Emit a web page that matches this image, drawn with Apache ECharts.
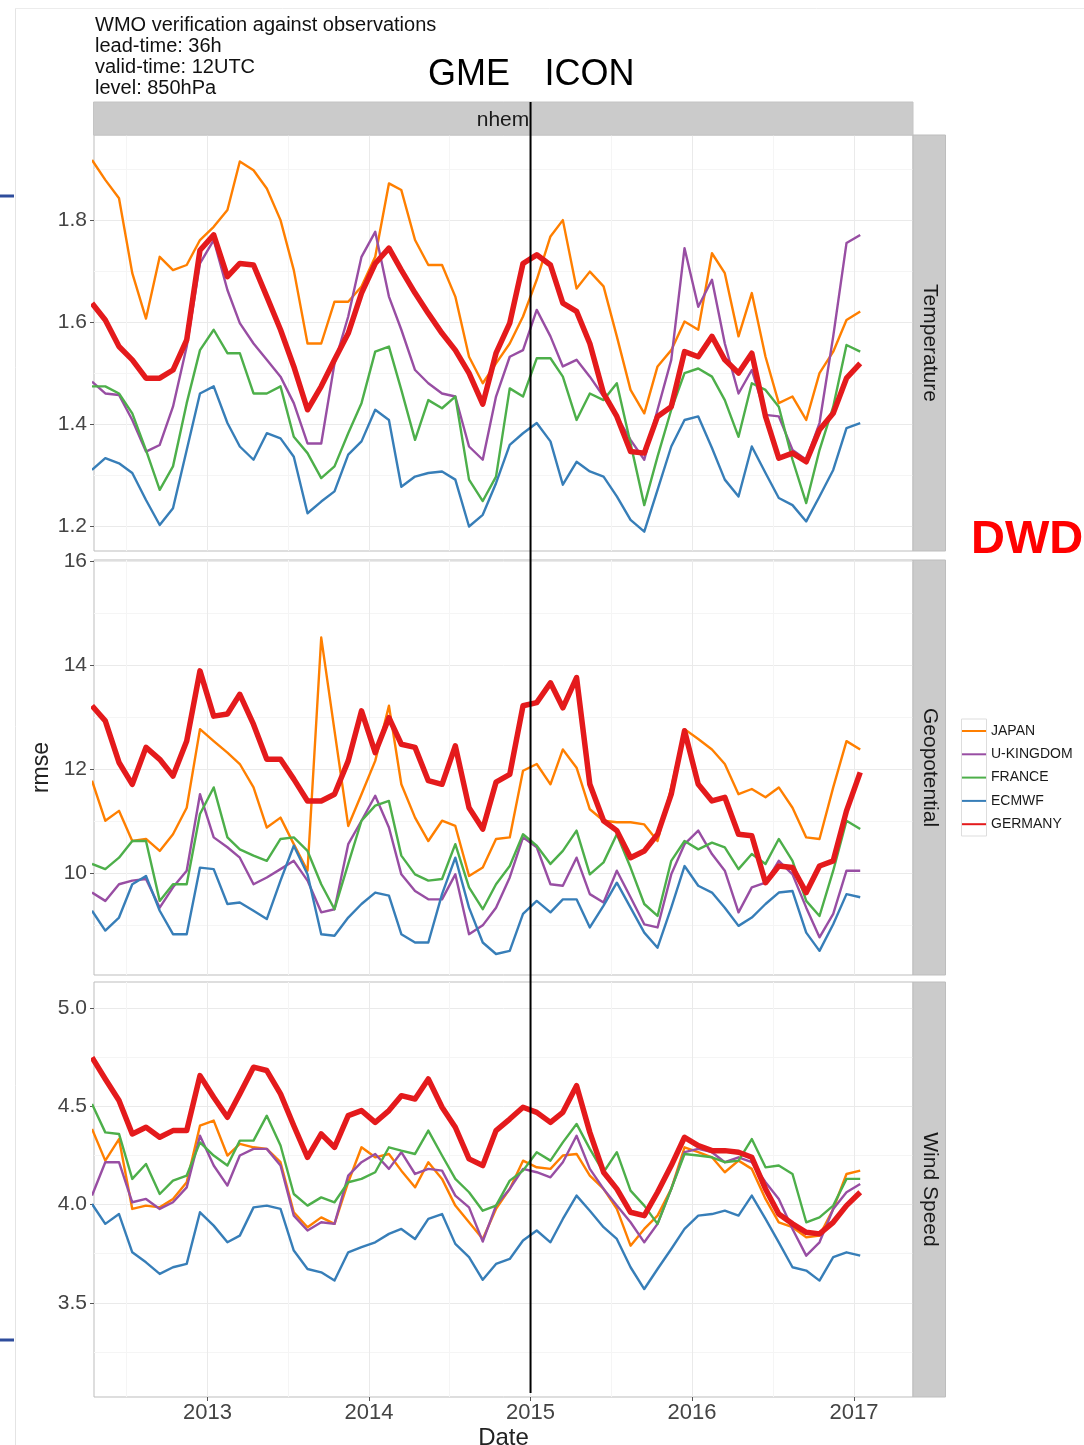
<!DOCTYPE html>
<html>
<head>
<meta charset="utf-8">
<script src="https://cdn.jsdelivr.net/npm/echarts@6/dist/echarts.min.js"></script>
<style>
html,body{margin:0;padding:0;background:#fff;}
#c{width:1084px;height:1445px;}
</style>
</head>
<body>
<div id="c"></div>
<script>
// ---------- data ----------
const months = [
  '2012-04','2012-05','2012-06','2012-07','2012-08','2012-09','2012-10','2012-11','2012-12',
  '2013-01','2013-02','2013-03','2013-04','2013-05','2013-06','2013-07','2013-08','2013-09','2013-10','2013-11','2013-12',
  '2014-01','2014-02','2014-03','2014-04','2014-05','2014-06','2014-07','2014-08','2014-09','2014-10','2014-11','2014-12',
  '2015-01','2015-02','2015-03','2015-04','2015-05','2015-06','2015-07','2015-08','2015-09','2015-10','2015-11','2015-12',
  '2016-01','2016-02','2016-03','2016-04','2016-05','2016-06','2016-07','2016-08','2016-09','2016-10','2016-11','2016-12',
  '2017-01'
];
const countries = ['JAPAN', 'U-KINGDOM', 'FRANCE', 'ECMWF', 'GERMANY'];
const facetNames = ['Temperature', 'Geopotential', 'Wind Speed'];

// Temperature
const tempJapan = [1.919,1.880,1.844,1.697,1.608,1.729,1.703,1.713,1.762,1.788,
  1.821,1.916,1.899,1.863,1.801,1.703,1.559,1.559,1.641,1.641,
  1.671,1.729,1.873,1.860,1.762,1.713,1.713,1.651,1.533,1.481,
  1.520,1.559,1.612,1.684,1.769,1.801,1.667,1.700,1.671,1.573,
  1.468,1.422,1.514,1.546,1.602,1.586,1.736,1.697,1.573,1.658,
  1.533,1.442,1.455,1.409,1.501,1.543,1.605,1.622];
const tempUK = [1.484,1.461,1.458,1.409,1.347,1.360,1.435,1.553,1.716,1.762,
  1.664,1.599,1.559,1.527,1.494,1.442,1.363,1.363,1.520,1.612,
  1.729,1.778,1.651,1.586,1.507,1.481,1.461,1.455,1.357,1.331,
  1.455,1.533,1.546,1.625,1.573,1.514,1.527,1.494,1.455,1.416,
  1.370,1.331,1.429,1.527,1.746,1.631,1.684,1.559,1.461,1.507,
  1.419,1.416,1.350,1.331,1.403,1.573,1.756,1.772];
const tempFrance = [1.475,1.475,1.461,1.422,1.350,1.272,1.318,1.442,1.546,1.586,
  1.540,1.540,1.461,1.461,1.475,1.376,1.344,1.295,1.318,1.383,
  1.442,1.543,1.553,1.468,1.370,1.448,1.432,1.455,1.292,1.250,
  1.298,1.471,1.455,1.530,1.530,1.494,1.409,1.461,1.448,1.481,
  1.363,1.242,1.337,1.429,1.501,1.510,1.494,1.448,1.376,1.481,
  1.468,1.435,1.331,1.246,1.350,1.435,1.556,1.543];
const tempECMWF = [1.311,1.334,1.324,1.305,1.252,1.203,1.236,1.350,1.461,1.475,
  1.403,1.357,1.331,1.383,1.373,1.337,1.226,1.249,1.269,1.341,
  1.367,1.429,1.409,1.278,1.298,1.305,1.308,1.292,1.200,1.223,
  1.285,1.360,1.383,1.403,1.367,1.282,1.327,1.308,1.298,1.259,
  1.213,1.190,1.272,1.357,1.409,1.416,1.354,1.292,1.259,1.357,
  1.305,1.256,1.242,1.210,1.259,1.311,1.393,1.403];
const tempGermany = [1.638,1.605,1.553,1.527,1.491,1.491,1.507,1.566,1.742,1.772,
  1.690,1.716,1.713,1.651,1.586,1.514,1.429,1.475,1.527,1.579,
  1.658,1.716,1.746,1.703,1.658,1.618,1.579,1.546,1.501,1.440,
  1.540,1.599,1.716,1.733,1.713,1.638,1.622,1.559,1.461,1.416,
  1.347,1.344,1.416,1.435,1.543,1.533,1.573,1.527,1.501,1.540,
  1.416,1.334,1.344,1.327,1.390,1.422,1.491,1.520];

// Geopotential
const geoJapan = [11.78,11.01,11.20,10.62,10.66,10.43,10.75,11.26,12.77,12.54,
  12.32,12.10,11.65,10.88,11.07,10.56,10.05,14.53,12.74,10.91,
  11.52,12.16,13.22,11.71,11.07,10.62,11.01,10.91,9.95,10.11,
  10.66,10.69,11.97,12.10,11.71,12.38,12.03,11.23,11.01,10.98,
  10.98,10.94,10.62,11.65,12.77,12.58,12.38,12.10,11.52,11.62,
  11.46,11.65,11.26,10.69,10.66,11.65,12.54,12.38];
const geoUK = [9.63,9.47,9.79,9.86,9.89,9.34,9.73,10.05,11.52,10.69,
  10.50,10.30,9.79,9.92,10.08,10.24,9.86,9.25,9.31,10.56,
  11.01,11.49,10.88,9.98,9.66,9.50,9.50,9.98,8.83,9.00,
  9.34,9.92,10.69,10.50,9.79,9.76,10.30,9.60,9.44,10.05,
  9.54,9.02,8.96,9.98,10.56,10.82,10.37,10.05,9.25,9.73,
  9.82,10.24,9.98,9.34,8.77,9.22,10.05,10.05];
const geoFrance = [10.18,10.08,10.30,10.62,10.62,9.47,9.79,9.79,11.14,11.65,
  10.69,10.46,10.34,10.24,10.66,10.69,10.43,9.79,9.31,10.18,
  11.01,11.30,11.39,10.34,9.98,9.86,9.89,10.56,9.73,9.31,
  9.79,10.14,10.75,10.53,10.18,10.43,10.82,9.98,10.21,10.75,
  10.11,9.41,9.18,10.24,10.62,10.46,10.59,10.50,10.08,10.37,
  10.18,10.66,10.24,9.47,9.18,10.05,11.01,10.85];
const geoECMWF = [9.28,8.90,9.15,9.79,9.95,9.28,8.83,8.83,10.11,10.08,
  9.41,9.44,9.28,9.12,9.86,10.53,9.98,8.83,8.80,9.15,
  9.41,9.63,9.57,8.83,8.67,8.67,9.60,10.30,9.34,8.67,
  8.45,8.51,9.22,9.47,9.25,9.50,9.50,8.96,9.38,9.82,
  9.34,8.86,8.57,9.34,10.14,9.76,9.63,9.34,8.99,9.15,
  9.41,9.63,9.66,8.86,8.51,9.02,9.60,9.54];
const geoGermany = [13.22,12.93,12.13,11.71,12.42,12.19,11.87,12.54,13.89,13.02,
  13.06,13.44,12.86,12.19,12.19,11.81,11.39,11.39,11.52,12.16,
  13.12,12.32,12.99,12.48,12.42,11.78,11.71,12.45,11.26,10.85,
  11.75,11.90,13.22,13.28,13.66,13.18,13.76,11.71,11.01,10.82,
  10.30,10.43,10.75,11.52,12.74,11.71,11.39,11.46,10.75,10.72,
  9.82,10.14,10.11,9.63,10.14,10.24,11.20,11.94];

// Wind Speed
const windJapan = [4.385,4.224,4.334,3.978,3.995,3.986,4.029,4.114,4.402,4.428,
  4.250,4.309,4.292,4.284,4.216,3.961,3.885,3.935,3.902,4.114,
  4.292,4.241,4.258,4.173,4.088,4.216,4.131,3.995,3.910,3.825,
  3.978,4.080,4.224,4.190,4.182,4.250,4.258,4.148,4.080,3.978,
  3.791,3.876,3.944,4.080,4.292,4.267,4.241,4.165,4.224,4.182,
  4.029,3.910,3.885,3.834,3.842,3.978,4.156,4.173];
const windUK = [4.046,4.216,4.216,4.012,4.029,3.978,4.012,4.088,4.351,4.199,
  4.097,4.250,4.284,4.284,4.199,3.944,3.868,3.910,3.902,4.148,
  4.216,4.258,4.182,4.267,4.156,4.182,4.173,4.046,3.986,3.812,
  3.995,4.080,4.182,4.165,4.139,4.216,4.351,4.182,4.080,3.995,
  3.910,3.808,3.902,4.080,4.267,4.284,4.267,4.216,4.241,4.216,
  4.114,4.029,3.876,3.740,3.808,3.978,4.063,4.105];
const windFrance = [4.513,4.368,4.360,4.131,4.207,4.054,4.122,4.148,4.317,4.250,
  4.199,4.326,4.326,4.453,4.301,4.054,3.995,4.037,4.012,4.114,
  4.131,4.165,4.292,4.275,4.258,4.377,4.250,4.131,4.063,3.969,
  3.995,4.122,4.173,4.267,4.224,4.317,4.411,4.284,4.165,4.267,
  4.071,3.995,3.902,4.080,4.258,4.250,4.241,4.216,4.224,4.334,
  4.190,4.199,4.156,3.910,3.935,3.995,4.131,4.131];
const windECMWF = [4.003,3.902,3.952,3.757,3.706,3.647,3.681,3.698,3.961,3.893,
  3.808,3.842,3.986,3.995,3.978,3.766,3.672,3.655,3.613,3.757,
  3.783,3.808,3.851,3.876,3.825,3.927,3.952,3.800,3.732,3.617,
  3.698,3.723,3.817,3.868,3.808,3.927,4.046,3.969,3.885,3.825,
  3.681,3.570,3.672,3.774,3.876,3.944,3.952,3.969,3.944,4.046,
  3.927,3.808,3.681,3.664,3.613,3.732,3.757,3.740];
const windGermany = [4.750,4.640,4.530,4.360,4.394,4.343,4.377,4.377,4.657,4.547,
  4.445,4.564,4.700,4.683,4.564,4.402,4.241,4.360,4.292,4.453,
  4.479,4.419,4.479,4.555,4.538,4.640,4.496,4.394,4.233,4.199,
  4.377,4.436,4.496,4.470,4.419,4.470,4.606,4.368,4.165,4.080,
  3.961,3.944,4.063,4.199,4.343,4.301,4.275,4.275,4.267,4.241,
  4.080,3.952,3.902,3.859,3.851,3.910,3.995,4.063];

// tick labels
const yearTicks = ['2013-01-01','2014-01-01','2015-01-01','2016-01-01','2017-01-01'];
const midYearTicks = ['2012-07-01','2013-07-02','2014-07-02','2015-07-02','2016-07-02'];
const tempTicks = [1.2, 1.4, 1.6, 1.8];
const tempMinor = [1.3, 1.5, 1.7, 1.9];
const geoTicks = [10, 12, 14, 16];
const geoMinor = [9, 11, 13, 15];
const windTicks = [3.5, 4.0, 4.5, 5.0];
const windMinor = [3.25, 3.75, 4.25, 4.75];
const titleLines = ['WMO verification against observations', 'lead-time: 36h', 'valid-time: 12UTC', 'level: 850hPa'];
const modelSwitchDate = '2015-01-01';

// ---------- build ----------
const FONT = "'Liberation Sans', Arial, Helvetica, sans-serif";
const colors = {'JAPAN':'#FF7F00','U-KINGDOM':'#984EA3','FRANCE':'#4DAF4A','ECMWF':'#377EB8','GERMANY':'#E41A1C'};
const toMs = s => { const p = s.split('-').map(Number); return Date.UTC(p[0], p[1]-1, p[2] || 15); };
const XMIN = Date.UTC(2012, 3, 19, 12);
const XMAX = Date.UTC(2017, 4, 14, 7);

const panels = [
  {vals:[tempJapan,tempUK,tempFrance,tempECMWF,tempGermany], min:1.152, max:1.968, ticks:tempTicks, minor:tempMinor, dec:1},
  {vals:[geoJapan,geoUK,geoFrance,geoECMWF,geoGermany], min:8.046, max:16.02, ticks:geoTicks, minor:geoMinor, dec:0},
  {vals:[windJapan,windUK,windFrance,windECMWF,windGermany], min:3.020, max:5.134, ticks:windTicks, minor:windMinor, dec:1}
];
panels.forEach(p => p.vals.forEach(a => { if (a.length !== months.length) throw new Error('length mismatch ' + a.length); }));

const gridBoxes = [{top:135, height:416}, {top:560, height:415}, {top:982, height:415}];
const G_LEFT = 94, G_WIDTH = 819;

const grid = [], xAxis = [], yAxis = [], series = [];
const yearMs = yearTicks.map(toMs), midMs = midYearTicks.map(toMs);

panels.forEach((p, k) => {
  grid.push({left:G_LEFT, top:gridBoxes[k].top, width:G_WIDTH, height:gridBoxes[k].height,
    outerBoundsMode:'none', containLabel:false,
    show:true, borderColor:'#bdbdbd', borderWidth:1, backgroundColor:'#ffffff'});
  const bottom = k === 2;
  xAxis.push({
    type:'value', gridIndex:k, min:XMIN, max:XMAX,
    axisLine:{show:false},
    axisTick:{show:bottom, length:4, lineStyle:{color:'#555', width:1}, customValues: yearMs},
    axisLabel:{show:bottom, customValues: yearMs, margin:5, fontSize:22, color:'#444', fontFamily:FONT,
      formatter: v => String(new Date(v).getUTCFullYear())},
    splitLine:{show:true, lineStyle:{color:'#eaeaea', width:1}},
    name: bottom ? 'Date' : '', nameLocation:'middle', nameGap:41,
    nameTextStyle:{fontSize:24, color:'#222', fontFamily:FONT, verticalAlign:'middle'}
  });
  xAxis.push({
    type:'value', gridIndex:k, min:XMIN, max:XMAX,
    axisLine:{show:false}, axisTick:{show:false, customValues: midMs},
    axisLabel:{show:false, customValues: midMs},
    splitLine:{show:true, lineStyle:{color:'#f5f5f5', width:1}}
  });
  yAxis.push({
    type:'value', gridIndex:k, min:p.min, max:p.max,
    axisLine:{show:false},
    axisTick:{show:true, length:4, lineStyle:{color:'#555', width:1}, customValues:p.ticks},
    axisLabel:{customValues:p.ticks, margin:7, fontSize:21, color:'#444', fontFamily:FONT,
      formatter: v => v.toFixed(p.dec)},
    splitLine:{show:true, lineStyle:{color:'#eaeaea', width:1}},
    name: k === 1 ? 'rmse' : '', nameLocation:'middle', nameGap:50, nameRotate:90,
    nameTextStyle:{fontSize:23, color:'#222', fontFamily:FONT, verticalAlign:'middle'}
  });
  yAxis.push({
    type:'value', gridIndex:k, min:p.min, max:p.max, position:'left',
    axisLine:{show:false}, axisTick:{show:false, customValues:p.minor},
    axisLabel:{show:false, customValues:p.minor},
    splitLine:{show:true, lineStyle:{color:'#f5f5f5', width:1}}
  });
  countries.forEach((c, j) => {
    const isDE = c === 'GERMANY';
    series.push({
      type:'line', name:c, xAxisIndex:2*k, yAxisIndex:2*k,
      data: months.map((m, i) => [toMs(m), p.vals[j][i]]),
      showSymbol:false, symbol:'none', clip:true, silent:true,
      lineStyle:{color:colors[c], width: isDE ? 5.5 : 2.4, join:'round', cap:'butt'},
      itemStyle:{color:colors[c]},
      emphasis:{disabled:true},
      z: isDE ? 4 : 3
    });
  });
});

const graphics = [];
// slide frame artefacts
graphics.push({type:'line', shape:{x1:15.5,y1:8,x2:15.5,y2:1445}, style:{stroke:'#e4e4e4', lineWidth:1}, z:1});
graphics.push({type:'line', shape:{x1:15,y1:8.5,x2:1084,y2:8.5}, style:{stroke:'#ececec', lineWidth:1}, z:1});
graphics.push({type:'line', shape:{x1:0,y1:196,x2:14,y2:196}, style:{stroke:'#2f4d9c', lineWidth:3}, z:1});
graphics.push({type:'line', shape:{x1:0,y1:1340,x2:14,y2:1340}, style:{stroke:'#2f4d9c', lineWidth:3}, z:1});
// title block
titleLines.forEach((t, i) => {
  graphics.push({type:'text', x:95, y:25 + i*21.2, style:{text:t, fontSize:20, fontFamily:FONT, fill:'#111',
    textAlign:'left', textVerticalAlign:'middle', verticalAlign:'middle'}, z:10});
});
// GME / ICON
graphics.push({type:'text', x:469, y:75.5, style:{text:'GME', fontSize:36, fontFamily:FONT, fill:'#000',
  textAlign:'center', verticalAlign:'middle', textVerticalAlign:'middle'}, z:10});
graphics.push({type:'text', x:589.5, y:75.5, style:{text:'ICON', fontSize:36, fontFamily:FONT, fill:'#000',
  textAlign:'center', verticalAlign:'middle', textVerticalAlign:'middle'}, z:10});
// DWD
graphics.push({type:'text', x:971, y:540, style:{text:'DWD', fontSize:47, fontWeight:'bold', fontFamily:FONT, fill:'#ff0000',
  textAlign:'left', verticalAlign:'middle', textVerticalAlign:'middle'}, z:10});
// top strip
graphics.push({type:'rect', shape:{x:93.5, y:102, width:819.5, height:33}, style:{fill:'#cbcbcb', stroke:'#c4c4c4', lineWidth:1}, z:5});
graphics.push({type:'text', x:503, y:120.5, style:{text:'nhem', fontSize:21, fontFamily:FONT, fill:'#1a1a1a',
  textAlign:'center', verticalAlign:'middle', textVerticalAlign:'middle'}, z:6});
// right strips
gridBoxes.forEach((g, k) => {
  graphics.push({type:'rect', shape:{x:913, y:g.top, width:32.5, height:g.height}, style:{fill:'#cbcbcb', stroke:'#bdbdbd', lineWidth:1}, z:5});
  graphics.push({type:'text', x:929.5, y:g.top + g.height/2, rotation:-Math.PI/2,
    style:{text:facetNames[k], fontSize:21, fontFamily:FONT, fill:'#1a1a1a',
      textAlign:'center', verticalAlign:'middle', textVerticalAlign:'middle'}, z:6});
});
// legend key column frame
graphics.push({type:'rect', shape:{x:961.5, y:719, width:25, height:117}, style:{fill:'none', stroke:'#dddddd', lineWidth:1}, z:5});

const option = {
  animation:false,
  backgroundColor:'#ffffff',
  grid, xAxis, yAxis, series,
  legend:{
    orient:'vertical', left:962, top:723, padding:0, itemWidth:24, itemHeight:2, itemGap:7.3, icon:'rect',
    selectedMode:false, data:countries,
    textStyle:{fontSize:14, lineHeight:16, color:'#1a1a1a', fontFamily:FONT}
  },
  graphic: graphics
};

const chart = echarts.init(document.getElementById('c'), null, {renderer:'canvas'});
chart.setOption(option);
const vx = chart.convertToPixel({xAxisIndex:0}, toMs(modelSwitchDate));
chart.setOption({graphic:[{id:'vline', type:'line', shape:{x1:vx, y1:102, x2:vx, y2:1393},
  style:{stroke:'#000', lineWidth:2}, z:100}]});
</script>
</body>
</html>
